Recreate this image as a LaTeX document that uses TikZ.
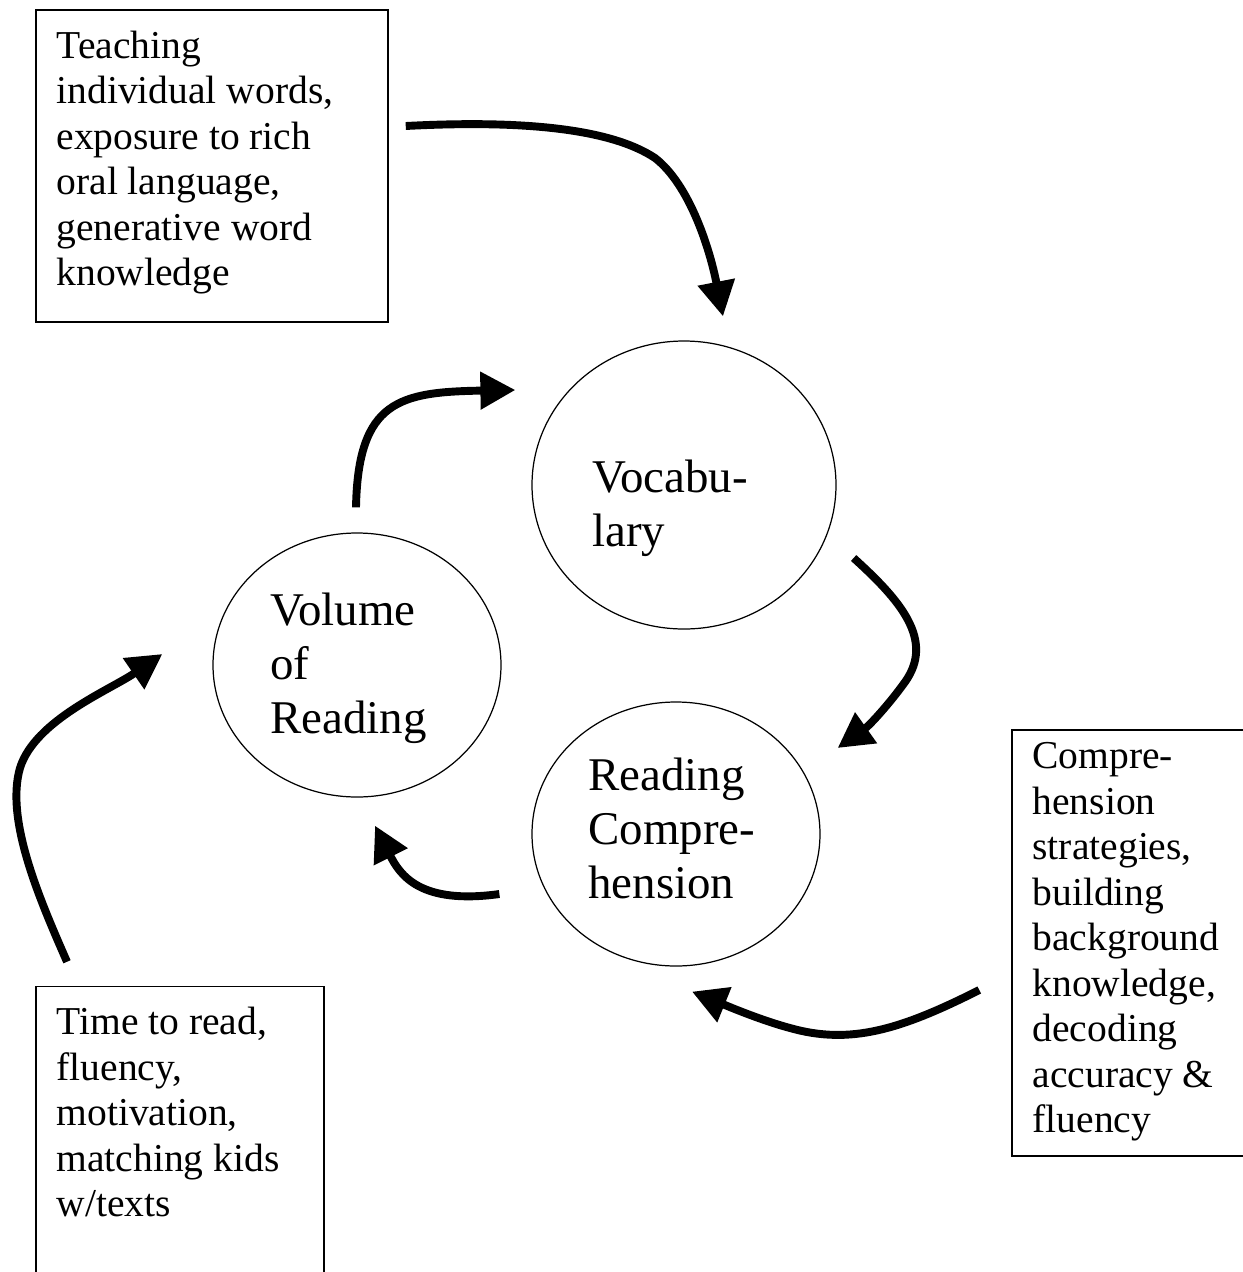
\documentclass[tikz,border=0pt]{standalone}
\usepackage{fontspec}
\setmainfont{Liberation Serif}
\usetikzlibrary{shapes.geometric,arrows.meta}
\begin{document}
\begin{tikzpicture}
        [x=0.02cm,y=-0.02cm,
        boxdecorate/.style={shape=rectangle,draw,line width=0.85pt,inner sep=0pt},%
        ovaldecorate/.style={shape=ellipse,draw,line width=0.7pt,inner sep=0pt},%
        boxtext/.style={anchor=north west,inner sep=0pt,align=left,font=\fontsize{22.5}{25.9}\selectfont},%
        ovaltext/.style={anchor=north west,inner sep=0pt,align=left,font=\fontsize{26.7}{30.7}\selectfont},%
        arrowdecorate/.style={-{Triangle[length=0.7cm,width=0.72cm]},line width=4.5pt}]
        \useasboundingbox (0,0) rectangle (1243,1272);
        %% boxes with what feeds the cycle

        \foreach \nodename/\x/\y/\w/\h/\dx/\dy/\txt in {
          teaching/212/166/352/312/21/21/{Teaching\\individual words,\\exposure to rich\\oral language,\\generative word\\knowledge},
          compstrat/1131/943/238/426/21/13/{Compre-\\hension\\strategies,\\building\\background\\knowledge,\\decoding\\accuracy \&\\fluency},
          timeread/180/1138/288/303/21/21/{Time to read,\\fluency,\\motivation,\\matching kids\\w/texts}}
        {
          \node (\nodename) at (\x,\y) [boxdecorate,minimum width=\w*0.02cm,minimum height=\h*0.02cm] {};
          \node (\nodename-text) at ([shift={(\dx,\dy)}]\nodename.north west) [boxtext] {\txt};
        }
        %% ovals of the cycle
        \foreach \nodename/\x/\y/\w/\h/\dx/\dy/\txt in {
          vocab/684/485/304/288/-92/-25/{Vocabu-\\lary},
          volume/357/665/288/264/-87/-72/{Volume\\of\\Reading},
          readcomp/676/834/288/264/-88/-76/{Reading\\Compre-\\hension}}
        {
          \node (\nodename) at (\x,\y) [ovaldecorate,minimum width=\w*0.02cm,minimum height=\h*0.02cm] {};
          \node (\nodename-text) at ([shift={(\dx,\dy)}]\nodename.center) [ovaltext] {\txt};
        }
        %% free ends of the arrows
        \coordinate (teaching-out) at ([shift={(17,-40)}]teaching.east);
        \coordinate (vocab-in1) at ([shift={(39,-24)}]vocab.north);
        \coordinate (volume-out) at ([shift={(-1,-25)}]volume.north);
        \coordinate (vocab-in2) at ([shift={(-16,-95)}]vocab.west);
        \coordinate (vocab-out) at ([shift={(17,73)}]vocab.east);
        \coordinate (readcomp-in1) at ([shift={(17,-86)}]readcomp.east);
        \coordinate (readcomp-out) at ([shift={(-32,60)}]readcomp.west);
        \coordinate (volume-in1) at ([shift={(18,28)}]volume.south);
        \coordinate (compstrat-out) at ([shift={(-32,47)}]compstrat.west);
        \coordinate (readcomp-in2) at ([shift={(16,25)}]readcomp.south);
        \coordinate (timeread-out) at ([shift={(-113,-24)}]timeread.north);
        \coordinate (volume-in2) at ([shift={(-50,-11)}]volume.west);
        %% arrows
        \draw[arrowdecorate] (teaching-out) .. controls (520,120) and (610,128) .. (655,158)
          .. controls (690,185) and (710,250) .. (vocab-in1);
        \draw[arrowdecorate] (volume-out) .. controls (358,400) and (400,392) .. (vocab-in2);
        \draw[arrowdecorate] (vocab-out) .. controls (900,600) and (935,640) .. (905,682)
          .. controls (890,703) and (870,725) .. (readcomp-in1);
        \draw[arrowdecorate] (readcomp-out) .. controls (420,905) and (400,875) .. (volume-in1);
        \draw[arrowdecorate] (compstrat-out) .. controls (900,1030) and (850,1045) .. (790,1028)
          .. controls (760,1020) and (725,1005) .. (readcomp-in2);
        \draw[arrowdecorate] (timeread-out) .. controls (40,900) and (5,820) .. (20,768)
          .. controls (35,720) and (110,690) .. (volume-in2);
\end{tikzpicture}
\end{document}
